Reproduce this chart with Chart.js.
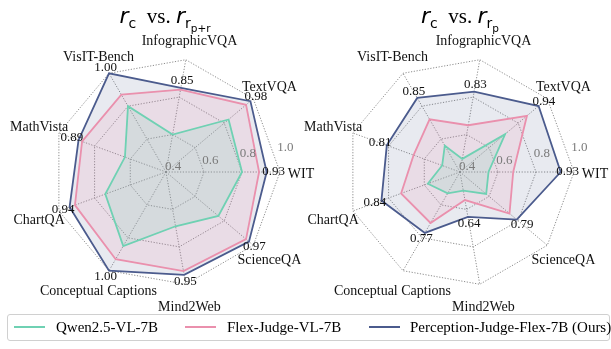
<!DOCTYPE html>
<html>
<head>
<meta charset="utf-8">
<script src="https://cdn.jsdelivr.net/npm/chart.js@4.4.1/dist/chart.umd.min.js"></script>
<style>
  body { margin: 0; width: 611px; height: 349px; background: #fff; position: relative; overflow: hidden; font-family: "Liberation Serif", serif; }
  canvas { position: absolute; top: 0; }
  .title { position: absolute; top: 3px; transform: translateX(-50%); white-space: nowrap; font-size: 21px; color: #000; }
  .title .m { font-family: "DejaVu Sans", sans-serif; font-style: oblique; font-size: 22px; }
  .title sub { font-family: "DejaVu Sans", sans-serif; font-style: normal; font-size: 14px; vertical-align: -5px; }
  .title sub sub { font-size: 10.5px; vertical-align: -4px; }
  #legend { position: absolute; left: 7px; top: 314px; width: 603px; height: 27px; border: 1px solid #d0d0d0; border-radius: 3px; box-sizing: border-box; font-size: 15px; line-height: 17px; }
  .sw { position: absolute; top: 11px; width: 31px; height: 2px; }
  .lt { position: absolute; top: 4px; white-space: nowrap; }
</style>
</head>
<body>
<canvas id="left" width="330" height="330" style="left:0px"></canvas>
<canvas id="right" width="331" height="330" style="left:280px"></canvas>

<div class="title" style="left:165px"><span class="m">r</span><sub>c</sub>&nbsp; vs. <span class="m">r</span><sub>r<sub>p+r</sub></sub></div>
<div class="title" style="left:460px"><span class="m">r</span><sub>c</sub>&nbsp; vs. <span class="m">r</span><sub>r<sub>p</sub></sub></div>

<div id="legend">
  <span class="sw" style="left:6px;background:#6fd1b3"></span><span class="lt" style="left:48px">Qwen2.5-VL-7B</span>
  <span class="sw" style="left:177px;background:#ea90ad"></span><span class="lt" style="left:219px">Flex-Judge-VL-7B</span>
  <span class="sw" style="left:361px;background:#4b5b8d"></span><span class="lt" style="left:402px">Perception-Judge-Flex-7B (Ours)</span>
</div>

<script>
// categories in clockwise order starting from the right (WIT)
const categories = ['WIT', 'ScienceQA', 'Mind2Web', 'Conceptual Captions', 'ChartQA',
                    'MathVista', 'VisIT-Bench', 'InfographicVQA', 'TextVQA'];
const seriesNames = ['Qwen2.5-VL-7B', 'Flex-Judge-VL-7B', 'Perception-Judge-Flex-7B (Ours)'];
const tickValues = [0.4, 0.6, 0.8, 1.0];

// left: r_c vs r_{r_{p+r}}
const qwenLeft = [0.80, 0.76, 0.69, 0.85, 0.74, 0.63, 0.80, 0.60, 0.83];
const flexLeft = [0.89, 0.95, 0.93, 0.93, 0.91, 0.87, 0.87, 0.84, 0.95];
const percLeft = [0.93, 0.97, 0.95, 1.00, 0.94, 0.89, 1.00, 0.85, 0.98];

// right: r_c vs r_{r_p}
const qwenRight = [0.55, 0.58, 0.50, 0.53, 0.58, 0.50, 0.56, 0.47, 0.71];
const flexRight = [0.68, 0.74, 0.55, 0.71, 0.73, 0.66, 0.72, 0.65, 0.86];
const percRight = [0.93, 0.79, 0.64, 0.77, 0.84, 0.81, 0.85, 0.83, 0.94];

const lineColors = ['#6fd1b3', '#ea90ad', '#4b5b8d'];
const fillColors = ['rgba(111,209,179,0.17)', 'rgba(234,144,173,0.16)', 'rgba(75,91,141,0.13)'];

const radarText = {
  id: 'radarText',
  afterDraw(chart, args, opts) {
    const r = chart.scales.r;
    const ctx = chart.ctx;
    ctx.save();
    ctx.textAlign = 'center';
    ctx.textBaseline = 'middle';

    // tick labels along a spoke ~10deg above WIT
    ctx.font = '13px "Liberation Serif"';
    ctx.fillStyle = '#7a7a7a';
    const a = -10 * Math.PI / 180;
    tickValues.forEach(v => {
      const d = r.getDistanceFromCenterForValue(v);
      ctx.fillText(v.toFixed(1), r.xCenter + d * Math.cos(a) + 7, r.yCenter + d * Math.sin(a) - 5);
    });

    // category names
    ctx.font = '14px "Liberation Serif"';
    ctx.fillStyle = '#111';
    chart.data.labels.forEach((lab, i) => {
      const p = r.getPointPosition(i, r.drawingArea + 21);
      ctx.fillText(lab, p.x, p.y + 2);
    });

    // value annotations for our model
    ctx.font = '13px "Liberation Serif"';
    opts.values.forEach((v, i) => {
      const p = r.getPointPositionForValue(i, v);
      const dx = p.x - r.xCenter, dy = p.y - r.yCenter;
      const L = Math.hypot(dx, dy) || 1;
      ctx.fillText(v.toFixed(2), p.x + dx / L * 7, p.y + dy / L * 7);
    });
    ctx.restore();
  }
};

function makeRadar(id, series, padding) {
  return new Chart(document.getElementById(id), {
    type: 'radar',
    data: {
      labels: categories,
      datasets: series.map((d, i) => ({
        label: seriesNames[i],
        data: d,
        borderColor: lineColors[i],
        backgroundColor: fillColors[i],
        borderWidth: 1.8,
        pointRadius: 0,
        fill: true
      }))
    },
    options: {
      responsive: false,
      animation: false,
      layout: { padding: padding },
      plugins: {
        legend: { display: false },
        tooltip: { enabled: false },
        radarText: { values: series[2] }
      },
      scales: {
        r: {
          min: 0.4,
          max: 1.0,
          startAngle: 90,
          ticks: { stepSize: 0.2, display: false },
          pointLabels: { display: false },
          grid: { color: '#808080', lineWidth: 0.9 },
          border: { dash: [1.2, 1.6] },
          angleLines: { color: '#808080', lineWidth: 0.9, borderDash: [1.2, 1.6] }
        }
      }
    },
    plugins: [radarText]
  });
}

makeRadar('left', [qwenLeft, flexLeft, percLeft], { left: 52, right: 50, top: 58, bottom: 44 });
makeRadar('right', [qwenRight, flexRight, percRight], { left: 66, right: 37, top: 58, bottom: 44 });
</script>
</body>
</html>
